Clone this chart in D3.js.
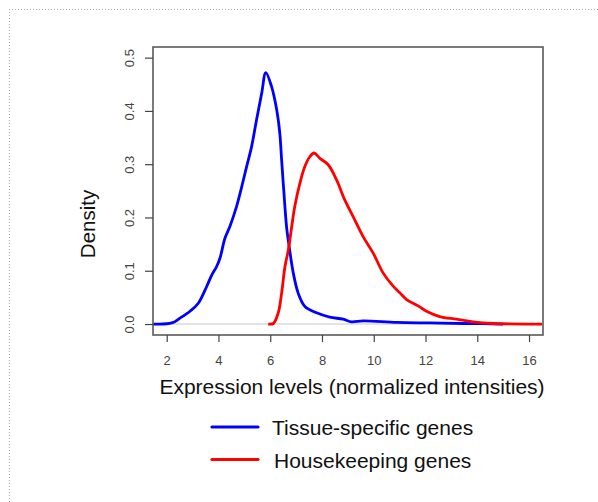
<!DOCTYPE html>
<html>
<head>
<meta charset="utf-8">
<script src="https://cdn.jsdelivr.net/npm/d3@7"></script>
<style>
  body { margin: 0; background: #fff; }
  svg { display: block; font-family: "Liberation Sans", Arial, sans-serif; }
</style>
</head>
<body>
<div id="chart"></div>
<script>
// density curves
var tissueX = [1.47, 2.2, 2.51, 2.9, 3.22, 3.54, 3.74, 3.93, 4.06, 4.25, 4.44, 4.7, 4.9, 5.09, 5.28, 5.47, 5.67, 5.83,
  6.05, 6.25, 6.37, 6.44, 6.53, 6.63, 6.73, 6.89, 7.08, 7.34, 7.79, 8.3, 8.82, 9.14, 9.59, 10.88, 12.17, 13.45, 15.0];
var tissueDensity = [0, 0.002, 0.011, 0.024, 0.039, 0.07, 0.092, 0.108, 0.124, 0.161, 0.183, 0.221, 0.258, 0.296, 0.333, 0.383, 0.433, 0.472,
  0.446, 0.402, 0.358, 0.308, 0.246, 0.183, 0.146, 0.096, 0.058, 0.033, 0.021, 0.013, 0.009, 0.004, 0.006, 0.003, 0.002, 0.001, 0];

var houseX = [5.92, 6.12, 6.31, 6.44, 6.57, 6.7, 6.83, 6.95, 7.15, 7.34, 7.53, 7.69, 7.92, 8.24, 8.56, 8.88, 9.2, 9.59,
  9.98, 10.36, 10.75, 11.02, 11.27, 11.72, 12.04, 12.55, 13.2, 13.84, 14.61, 16.5];
var houseDensity = [0, 0.001, 0.021, 0.058, 0.108, 0.139, 0.183, 0.221, 0.265, 0.296, 0.314, 0.321, 0.311, 0.299, 0.271, 0.233, 0.202, 0.164,
  0.133, 0.096, 0.071, 0.058, 0.046, 0.034, 0.024, 0.014, 0.009, 0.004, 0.001, 0];

var xTicks = [2, 4, 6, 8, 10, 12, 14, 16];
var yTicks = [0, 0.1, 0.2, 0.3, 0.4, 0.5];
var seriesNames = ["Tissue-specific genes", "Housekeeping genes"];
var seriesColors = ["#0000ff", "#ff0000"];

var W = 598, H = 502;
var plotL = 153, plotR = 543, plotT = 47, plotB = 335;

var svg = d3.select("#chart").append("svg").attr("width", W).attr("height", H);

// dotted page frame
svg.append("line").attr("x1", 9).attr("x2", W).attr("y1", 9.5).attr("y2", 9.5)
  .attr("stroke", "#aaa").attr("stroke-dasharray", "1,2");
svg.append("line").attr("x1", 9.5).attr("x2", 9.5).attr("y1", 9).attr("y2", H)
  .attr("stroke", "#aaa").attr("stroke-dasharray", "1,2");

var x = d3.scaleLinear().domain([1.47, 16.54]).range([plotL, plotR]);
var y = d3.scaleLinear().domain([-0.0206, 0.52]).range([plotB, plotT]);

// zero reference line
svg.append("line")
  .attr("x1", plotL).attr("x2", plotR)
  .attr("y1", y(0)).attr("y2", y(0))
  .attr("stroke", "#c8c8c8").attr("stroke-width", 1);

var line = d3.line()
  .x(function(d) { return x(d[0]); })
  .y(function(d) { return y(d[1]); })
  .curve(d3.curveCatmullRom.alpha(0.5));

var series = [
  d3.zip(tissueX, tissueDensity),
  d3.zip(houseX, houseDensity)
];

series.forEach(function(s, i) {
  svg.append("path")
    .datum(s)
    .attr("fill", "none")
    .attr("stroke", seriesColors[i])
    .attr("stroke-width", 2.8)
    .attr("stroke-linejoin", "round")
    .attr("d", line);
});

// box
svg.append("rect")
  .attr("x", plotL).attr("y", plotT)
  .attr("width", plotR - plotL).attr("height", plotB - plotT)
  .attr("fill", "none").attr("stroke", "#5a5a5a").attr("stroke-width", 1.6);

// axes
var gx = svg.append("g")
  .attr("transform", "translate(0," + plotB + ")")
  .call(d3.axisBottom(x).tickValues(xTicks).tickSize(7).tickFormat(d3.format("d")));
gx.select(".domain").remove();
gx.selectAll("line").attr("stroke", "#444").attr("stroke-width", 1.2);
gx.selectAll("text")
  .attr("y", 25).attr("dy", "0.35em")
  .attr("fill", "#444").attr("font-size", 13)
  .attr("font-family", "Liberation Sans, Arial, sans-serif");

var gy = svg.append("g")
  .attr("transform", "translate(" + plotL + ",0)")
  .call(d3.axisLeft(y).tickValues(yTicks).tickSize(8).tickFormat(d3.format(".1f")));
gy.select(".domain").remove();
gy.selectAll("line").attr("stroke", "#444").attr("stroke-width", 1.2);
gy.selectAll("text")
  .attr("transform", "rotate(-90)")
  .attr("text-anchor", "middle")
  .attr("x", 0).attr("y", -24).attr("dy", "0.35em")
  .attr("fill", "#444").attr("font-size", 13)
  .attr("font-family", "Liberation Sans, Arial, sans-serif");

// axis titles
svg.append("text")
  .attr("x", (plotL + plotR) / 2 + 4).attr("y", 387).attr("dy", "0.35em")
  .attr("text-anchor", "middle").attr("font-size", 21).attr("fill", "#111")
  .text("Expression levels (normalized intensities)");

svg.append("text")
  .attr("transform", "translate(88,224) rotate(-90)")
  .attr("dy", "0.35em")
  .attr("text-anchor", "middle").attr("font-size", 20.5).attr("fill", "#111")
  .text("Density");

// legend
var legendY = [427, 459.5];
var legendTextX = [272, 274];
seriesNames.forEach(function(name, i) {
  svg.append("line")
    .attr("x1", 212).attr("x2", 258)
    .attr("y1", legendY[i]).attr("y2", legendY[i])
    .attr("stroke", seriesColors[i]).attr("stroke-width", 3.2)
    .attr("stroke-linecap", "round");
  svg.append("text")
    .attr("x", legendTextX[i]).attr("y", legendY[i] + 1).attr("dy", "0.35em")
    .attr("font-size", 21).attr("fill", "#111")
    .text(name);
});
</script>
</body>
</html>
